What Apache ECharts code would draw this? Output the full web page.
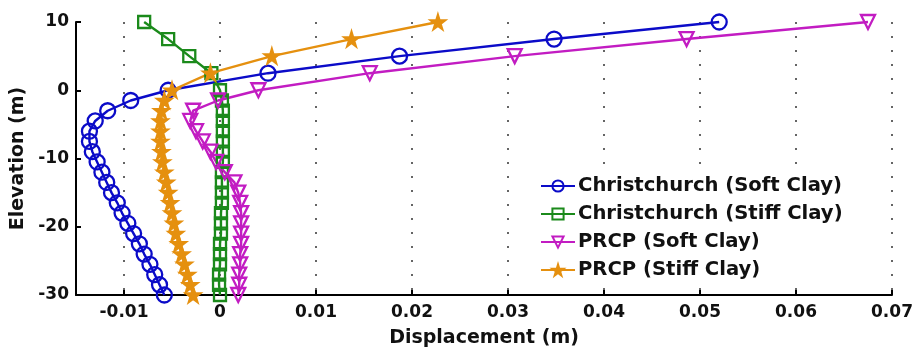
<!DOCTYPE html>
<html>
<head>
<meta charset="utf-8">
<script src="https://cdn.jsdelivr.net/npm/echarts@6/dist/echarts.min.js"></script>
<style>
  html, body { margin: 0; padding: 0; background: #fff; }
  #chart { width: 914px; height: 349px; }
</style>
</head>
<body>
<div id="chart"></div>
<script>
// Elevation of each output node (m), shared by all four profiles
const elevation = [10, 7.5, 5, 2.5, 0, -1.5, -3, -4.5, -6, -7.5, -9, -10.5, -12, -13.5, -15,
  -16.5, -18, -19.5, -21, -22.5, -24, -25.5, -27, -28.5, -30];

// Lateral displacement (m) at each node
const christchurchSoft = [0.052, 0.0348, 0.0187, 0.005, -0.0054, -0.0093, -0.0117, -0.0130, -0.0136,
  -0.0136, -0.0133, -0.0128, -0.0123, -0.0118, -0.0113, -0.0107, -0.0102, -0.0096, -0.0090,
  -0.0084, -0.0079, -0.0073, -0.0068, -0.0063, -0.0058];
const christchurchStiff = [-0.0079, -0.0054, -0.0032, -0.0009, 0.0000, 0.0002, 0.0003, 0.0003, 0.0003,
  0.0003, 0.0003, 0.0003, 0.0002, 0.0002, 0.0002, 0.0002, 0.0001, 0.0001, 0.0001,
  0.0000, 0.0000, 0.0000, -0.0001, -0.0001, 0.0000];
const prcpSoft = [0.0675, 0.0486, 0.0307, 0.0156, 0.0040, -0.0002, -0.0028, -0.0031, -0.0025,
  -0.0018, -0.0010, -0.0004, 0.0005, 0.0015, 0.0019, 0.0021, 0.0022, 0.0022, 0.0022,
  0.0022, 0.0021, 0.0021, 0.0020, 0.0020, 0.0019];
const prcpStiff = [0.0227, 0.0137, 0.0054, -0.0010, -0.0050, -0.0058, -0.0061, -0.0062, -0.0062,
  -0.0062, -0.0061, -0.0060, -0.0058, -0.0056, -0.0054, -0.0052, -0.0050, -0.0048, -0.0046,
  -0.0043, -0.0040, -0.0037, -0.0034, -0.0031, -0.0028];

const seriesNames = ['Christchurch (Soft Clay)', 'Christchurch (Stiff Clay)', 'PRCP (Soft Clay)', 'PRCP (Stiff Clay)'];
const xTicks = [-0.01, 0, 0.01, 0.02, 0.03, 0.04, 0.05, 0.06, 0.07];
const yTicks = [-30, -20, -10, 0, 10];

const FONT = 'DejaVu Sans';
const STAR = 'path://M50,0 L61,35 L98,35 L68,57 L79,91 L50,70 L21,91 L32,57 L2,35 L39,35 Z';

function profile(values) {
  return values.map((v, i) => [v, elevation[i]]);
}

function makeSeries(name, values, color, symbol, size, filled, rotate) {
  return {
    name: name,
    type: 'line',
    data: profile(values),
    symbol: symbol,
    symbolSize: size,
    symbolRotate: rotate || 0,
    showAllSymbol: true,
    clip: false,
    lineStyle: { color: color, width: 2.4 },
    itemStyle: {
      color: filled ? color : 'rgba(255,255,255,0)',
      borderColor: color,
      borderWidth: 2.3
    },
    emphasis: { disabled: true },
    animation: false
  };
}

const chart = echarts.init(document.getElementById('chart'), null, { renderer: 'canvas' });
chart.setOption({
  backgroundColor: '#fff',
  animation: false,
  grid: { left: 76, right: 22, top: 22, bottom: 54, containLabel: false, outerBoundsMode: 'none' },
  xAxis: {
    type: 'value',
    min: -0.015,
    max: 0.07,
    name: 'Displacement (m)',
    nameLocation: 'middle',
    nameGap: 34,
    nameTextStyle: { fontFamily: FONT, fontWeight: 'bold', fontSize: 19, color: '#111' },
    axisLine: { onZero: false, lineStyle: { color: '#000', width: 2 } },
    axisTick: { show: true, inside: true, length: 5, customValues: xTicks, lineStyle: { color: '#000', width: 2 } },
    axisLabel: {
      customValues: xTicks,
      margin: 9,
      fontFamily: FONT, fontWeight: 'bold', fontSize: 17, color: '#111',
      formatter: v => (Math.abs(v) < 1e-9 ? '0' : String(Math.round(v * 100) / 100))
    },
    splitLine: { show: true, lineStyle: { color: '#333', width: 1.5, type: [2, 12] } }
  },
  yAxis: {
    type: 'value',
    min: -30,
    max: 10,
    interval: 10,
    name: 'Elevation (m)',
    nameLocation: 'middle',
    nameGap: 43,
    nameTextStyle: { fontFamily: FONT, fontWeight: 'bold', fontSize: 19, color: '#111' },
    axisLine: { show: true, onZero: false, lineStyle: { color: '#000', width: 2 } },
    axisTick: { show: true, inside: true, length: 5, lineStyle: { color: '#000', width: 2 } },
    axisLabel: {
      margin: 7,
      fontFamily: FONT, fontWeight: 'bold', fontSize: 17, color: '#111',
      formatter: v => String(v)
    },
    splitLine: { show: false }
  },
  legend: {
    orient: 'vertical',
    left: 536,
    top: 174,
    itemWidth: 34,
    itemHeight: 14,
    itemGap: 8,
    padding: [2, 4, 2, 4],
    backgroundColor: '#fff',
    data: seriesNames,
    textStyle: { fontFamily: FONT, fontWeight: 'bold', fontSize: 19.6, color: '#111', lineHeight: 20, padding: [0, 0, 0, -2] }
  },
  series: [
    makeSeries(seriesNames[0], christchurchSoft, '#0b0bc8', 'circle', 15, false),
    makeSeries(seriesNames[1], christchurchStiff, '#1b8a1b', 'rect', 12, false),
    makeSeries(seriesNames[2], prcpSoft, '#c21cc2', 'triangle', 14, false, 180),
    makeSeries(seriesNames[3], prcpStiff, '#e5900f', STAR, 14, true)
  ]
});
</script>
</body>
</html>
